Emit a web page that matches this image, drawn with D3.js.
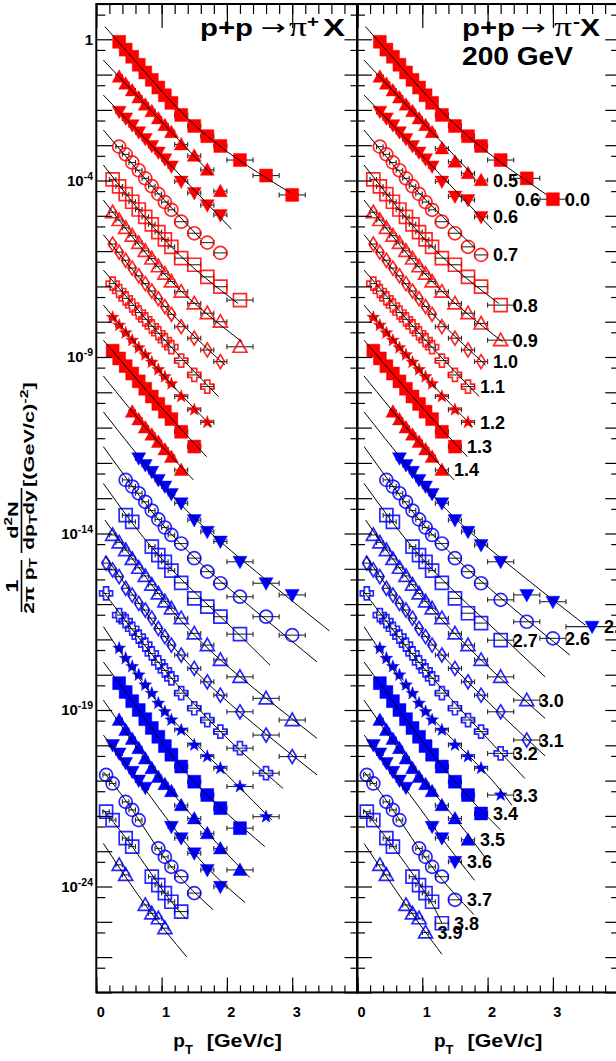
<!DOCTYPE html>
<html><head><meta charset="utf-8">
<script src="https://cdn.jsdelivr.net/npm/d3@7"></script>
<style>
body{margin:0;background:#fff}
svg{display:block}
text{font-family:"Liberation Sans",Arial,Helvetica,sans-serif;font-weight:bold;fill:#000}
</style></head>
<body><svg id="c" width="616" height="1061"></svg>
<script>
// Rapidity bin of each spectrum, top to bottom
const rapidity = ["0.0","0.5","0.6","0.7","0.8","0.9","1.0","1.1","1.2","1.3","1.4",
  "2.5","2.6","2.7","3.0","3.1","3.2","3.3","3.4","3.5","3.6","3.7","3.8","3.9"];
// Each spectrum is drawn multiplied by 10^scaleExponent
const scaleExponent = [0,-1,-2,-3,-4,-5,-6,-7,-8,-9,-10,-11,-12,-13,-14,-15,-16,-17,-18,-19,-20,-21,-22,-23];

// pi+ : transverse momentum bins (GeV/c)
const ptPlus = [
 [0.35,0.45,0.55,0.65,0.75,0.85,0.95,1.05,1.15,1.3,1.5,1.7,1.9,2.2,2.6,3.0],
 [0.35,0.45,0.55,0.65,0.75,0.85,0.95,1.05,1.15,1.3,1.5,1.7,1.9],
 [0.35,0.45,0.55,0.65,0.75,0.85,0.95,1.05,1.15,1.3,1.5,1.7,1.9],
 [0.35,0.45,0.55,0.65,0.75,0.85,0.95,1.05,1.15,1.3,1.5,1.7,1.9],
 [0.25,0.35,0.45,0.55,0.65,0.75,0.85,0.95,1.05,1.15,1.3,1.5,1.7,1.9,2.2],
 [0.25,0.35,0.45,0.55,0.65,0.75,0.85,0.95,1.05,1.15,1.3,1.5,1.7,1.9,2.2],
 [0.25,0.35,0.45,0.55,0.65,0.75,0.85,0.95,1.05,1.15,1.3,1.5,1.7,1.9],
 [0.25,0.35,0.45,0.55,0.65,0.75,0.85,0.95,1.05,1.15,1.3,1.5,1.7],
 [0.25,0.35,0.45,0.55,0.65,0.75,0.85,0.95,1.05,1.15,1.3,1.5,1.7],
 [0.25,0.35,0.45,0.55,0.65,0.75,0.85,0.95,1.05,1.15,1.3,1.5],
 [0.55,0.65,0.75,0.85,0.95,1.05,1.15,1.3],
 [0.65,0.75,0.85,0.95,1.05,1.15,1.3,1.5,1.7,1.9,2.2,2.6,3.0],
 [0.45,0.55,0.65,0.75,0.85,0.95,1.05,1.15,1.3,1.5,1.7,1.9,2.2,2.6,3.0],
 [0.45,0.55,0.85,0.95,1.05,1.15,1.3,1.5,1.7,1.9,2.2],
 [0.25,0.35,0.45,0.55,0.65,0.75,0.85,0.95,1.05,1.15,1.3,1.5,1.7,1.9,2.2,2.6,3.0],
 [0.15,0.25,0.35,0.45,0.55,0.65,0.75,0.85,0.95,1.05,1.15,1.3,1.5,1.7,1.9,2.2,2.6,3.0],
 [0.15,0.35,0.45,0.55,0.65,0.75,0.85,0.95,1.05,1.15,1.3,1.5,1.7,1.9,2.2,2.6],
 [0.35,0.45,0.55,0.65,0.75,0.85,0.95,1.05,1.15,1.3,1.5,1.7,1.9,2.2,2.6],
 [0.35,0.45,0.55,0.65,0.75,0.85,0.95,1.05,1.15,1.3,1.5,1.7,1.9,2.2],
 [0.35,0.45,0.55,0.65,0.75,0.85,0.95,1.05,1.15,1.3,1.5,1.7,1.9,2.2],
 [0.25,0.35,0.45,0.55,0.65,0.75,1.15,1.3,1.5,1.7,1.9],
 [0.15,0.25,0.45,0.55,0.65,0.95,1.05,1.15,1.3,1.5],
 [0.15,0.25,0.45,0.55,0.85,0.95,1.05,1.15,1.3],
 [0.35,0.45,0.75,0.85,0.95,1.05]
];
// pi+ : invariant yield before scaling, (GeV/c)^-2
const yieldPlus = [
 [0.85,0.51,0.32,0.19,0.115,0.071,0.043,0.026,0.0158,0.0072,0.0035,0.0018,9.5e-4,3.8e-4,1.38e-4,3.9e-5],
 [0.87,0.55,0.355,0.224,0.141,0.091,0.0575,0.037,0.0234,0.0105,0.005,0.002,5e-4],
 [0.89,0.575,0.37,0.234,0.151,0.095,0.062,0.04,0.025,0.0093,0.0044,0.002,0.00105],
 [0.91,0.55,0.324,0.195,0.115,0.069,0.0417,0.0245,0.0148,0.0068,0.0032,0.00174,8.9e-4],
 [1.07,0.68,0.41,0.25,0.151,0.093,0.0575,0.0347,0.0214,0.0132,0.0063,0.0041,0.00186,9.8e-4,4.1e-4],
 [1.26,0.76,0.457,0.275,0.17,0.102,0.0617,0.0372,0.0229,0.0138,0.0071,0.0033,0.00174,0.001,1.95e-4],
 [1.58,0.93,0.55,0.33,0.2,0.12,0.074,0.0447,0.0269,0.0162,0.0072,0.0034,0.00158,7.4e-4],
 [1.2,0.74,0.457,0.288,0.182,0.117,0.074,0.047,0.03,0.019,0.0079,0.0031,0.00145],
 [1.32,0.79,0.48,0.295,0.182,0.115,0.0708,0.0437,0.0275,0.0174,0.0076,0.0032,0.00141],
 [1.51,0.91,0.55,0.34,0.204,0.126,0.0759,0.0468,0.0282,0.0174,0.0076,0.0029],
 [0.28,0.17,0.1,0.063,0.039,0.024,0.0148,0.0063],
 [0.135,0.087,0.056,0.033,0.0214,0.0132,0.0072,0.0024,0.00112,5.9e-4,1.58e-4,3.9e-5,1.82e-5],
 [0.33,0.214,0.138,0.079,0.0447,0.0251,0.0148,0.0091,0.0052,0.002,8.3e-4,3.9e-4,1.62e-4,4.4e-5,1.32e-5],
 [0.33,0.214,0.0427,0.0245,0.0158,0.0089,0.004,0.00145,8.5e-4,4.4e-4,1.41e-4],
 [0.91,0.56,0.34,0.19,0.107,0.063,0.0355,0.02,0.012,0.0076,0.004,0.00148,6.9e-4,2.63e-4,8.7e-5,2.14e-5,5.2e-6],
 [1.45,0.93,0.6,0.28,0.18,0.105,0.068,0.04,0.0204,0.012,0.0069,0.0036,0.00151,6.3e-4,2.63e-4,8.9e-5,1.95e-5,4.8e-6],
 [2.0,0.49,0.33,0.2,0.12,0.071,0.04,0.0224,0.0132,0.0079,0.003,0.00112,5.2e-4,2.45e-4,8.3e-5,1.62e-5],
 [0.56,0.29,0.17,0.098,0.051,0.0295,0.0155,0.0089,0.0052,0.0027,0.00102,4.8e-4,2.24e-4,6.8e-5,9.5e-6],
 [0.575,0.324,0.178,0.1,0.055,0.031,0.0174,0.0095,0.0054,0.0025,9.3e-4,3.9e-4,1.66e-4,4.5e-5],
 [0.525,0.27,0.151,0.083,0.042,0.0224,0.0126,0.0079,0.005,0.002,8.5e-4,3.2e-4,1.2e-4,2.95e-5],
 [1.02,0.59,0.316,0.178,0.1,0.063,0.0049,0.00234,8.7e-4,2.95e-4,9.8e-5],
 [1.45,0.83,0.25,0.148,0.076,0.012,0.0069,0.0036,0.0019,6.5e-4],
 [1.32,0.76,0.234,0.135,0.019,0.011,0.0065,0.0037,0.00195],
 [0.41,0.214,0.03,0.0174,0.0126,0.0066]
];
// pi+ : fitted spectra, sampled as [pT, yield] before scaling
const fitPlus = [
 [[0.13,2.3],[0.75,0.115],[1.7,0.0018],[2.97,4.5e-5]],
 [[0.108,2.57],[0.95,0.0575],[1.77,0.00145]],
 [[0.108,2.63],[1.05,0.04],[2.07,4.2e-4]],
 [[0.108,2.7],[0.85,0.069],[1.6,0.0022]],
 [[0.108,2.75],[1.15,0.0132],[2.17,3.3e-4]],
 [[0.108,2.8],[1.15,0.0138],[2.23,2.7e-4]],
 [[0.108,2.9],[1.05,0.0269],[1.97,5.9e-4]],
 [[0.108,2.9],[1.05,0.03],[1.87,7.6e-4]],
 [[0.108,2.95],[1.05,0.0275],[1.77,0.00107]],
 [[0.108,3.0],[0.95,0.0468],[1.69,0.0015]],
 [[0.108,2.9],[0.85,0.063],[1.487,0.0033]],
 [[0.108,2.8],[0.95,0.033],[1.9,5.9e-4],[3.57,1.74e-6]],
 [[0.108,2.9],[0.95,0.0251],[1.9,4.5e-4],[3.38,2.3e-6]],
 [[0.108,2.63],[0.95,0.0245],[1.9,4.4e-4],[2.66,1.86e-5]],
 [[0.133,2.4],[0.95,0.02],[1.9,2.63e-4],[3.38,1.58e-6]],
 [[0.133,2.3],[0.95,0.0204],[1.9,2.63e-4],[3.38,1.45e-6]],
 [[0.108,2.24],[0.95,0.0224],[1.9,2.45e-4],[2.86,6.0e-6]],
 [[0.108,2.3],[0.95,0.0155],[1.9,2.24e-4],[2.69,7.6e-6]],
 [[0.108,2.3],[0.75,0.055],[1.5,9.3e-4],[2.58,1.35e-5]],
 [[0.108,1.9],[0.75,0.042],[1.5,8.5e-4],[2.35,1.8e-5]],
 [[0.108,1.95],[0.65,0.1],[1.5,8.7e-4],[2.28,3.5e-5]],
 [[0.108,1.78],[0.55,0.148],[1.15,0.0036],[1.79,2.2e-4]],
 [[0.108,1.48],[0.55,0.135],[1.05,0.0065],[1.384,0.00117]],
 [[0.108,1.66],[0.75,0.03],[1.384,0.00102]]
];

// pi- : transverse momentum bins (GeV/c)
const ptMinus = [
 [0.35,0.45,0.55,0.65,0.75,0.85,0.95,1.05,1.15,1.3,1.5,1.7,1.9,2.2,2.6,3.0],
 [0.35,0.45,0.55,0.65,0.75,0.85,0.95,1.05,1.15,1.3,1.5,1.7,1.9],
 [0.35,0.45,0.55,0.65,0.75,0.85,0.95,1.05,1.15,1.3,1.5,1.7,1.9],
 [0.35,0.45,0.55,0.65,0.75,0.85,0.95,1.05,1.15,1.3,1.5,1.7,1.9],
 [0.25,0.35,0.45,0.55,0.65,0.75,0.85,0.95,1.05,1.15,1.3,1.5,1.7,1.9,2.2],
 [0.25,0.35,0.45,0.55,0.65,0.75,0.85,0.95,1.05,1.15,1.3,1.5,1.7,1.9,2.2],
 [0.25,0.35,0.45,0.55,0.65,0.75,0.85,0.95,1.05,1.15,1.3,1.5,1.7,1.9],
 [0.25,0.35,0.45,0.55,0.65,0.75,0.85,0.95,1.05,1.15,1.3,1.5,1.7],
 [0.25,0.35,0.45,0.55,0.65,0.75,0.85,0.95,1.05,1.15,1.3,1.5,1.7],
 [0.25,0.35,0.45,0.55,0.65,0.75,0.85,0.95,1.05,1.15,1.3,1.5],
 [0.55,0.65,0.75,0.85,0.95,1.05,1.15,1.3],
 [0.65,0.75,0.85,0.95,1.05,1.15,1.3,1.5,1.7,1.9,2.2,2.6,3.0,3.6],
 [0.45,0.55,0.65,0.75,0.85,0.95,1.05,1.15,1.3,1.5,1.7,1.9,2.2,2.6,3.0],
 [0.45,0.55,0.85,0.95,1.05,1.15,1.3,1.5,1.7,1.9,2.2],
 [0.25,0.35,0.45,0.55,0.65,0.75,0.85,0.95,1.05,1.15,1.3,1.5,1.7,1.9,2.2,2.6],
 [0.15,0.25,0.35,0.45,0.55,0.65,0.75,0.85,0.95,1.05,1.15,1.3,1.5,1.7,1.9,2.2,2.6],
 [0.15,0.35,0.45,0.55,0.65,0.75,0.85,0.95,1.05,1.15,1.3,1.5,1.7,1.9,2.2],
 [0.35,0.45,0.55,0.65,0.75,0.85,0.95,1.05,1.15,1.3,1.5,1.7,1.9,2.2],
 [0.35,0.45,0.55,0.65,0.75,0.85,0.95,1.05,1.15,1.3,1.5,1.7,1.9],
 [0.35,0.45,0.55,0.65,0.75,0.85,0.95,1.05,1.15,1.3,1.5,1.7],
 [0.25,0.35,0.45,0.55,0.65,0.75,1.15,1.3,1.5],
 [0.15,0.25,0.45,0.55,0.65,0.95,1.05,1.15,1.3,1.5],
 [0.15,0.25,0.45,0.55,0.85,0.95,1.05,1.15,1.3],
 [0.35,0.45,0.75,0.85,0.95,1.05]
];
// pi- : invariant yield before scaling, (GeV/c)^-2
const yieldMinus = [
 [0.85,0.51,0.32,0.19,0.115,0.071,0.043,0.026,0.0158,0.0072,0.0035,0.0018,9.5e-4,3.8e-4,1.15e-4,2.95e-5],
 [0.87,0.55,0.355,0.224,0.141,0.091,0.0575,0.037,0.0234,0.0081,0.0034,0.0016,0.00102],
 [0.89,0.575,0.37,0.234,0.151,0.095,0.062,0.04,0.025,0.0093,0.0035,0.0028,9.3e-4],
 [0.91,0.55,0.324,0.195,0.115,0.069,0.0417,0.0245,0.0148,0.0068,0.0032,0.00132,7.8e-4],
 [1.07,0.68,0.41,0.25,0.151,0.093,0.0575,0.0347,0.0214,0.0132,0.0063,0.0041,0.00186,9.8e-4,2.95e-4],
 [1.26,0.76,0.457,0.275,0.17,0.102,0.0617,0.0372,0.0229,0.0138,0.0071,0.0033,0.00174,8.9e-4,3.0e-4],
 [1.58,0.93,0.55,0.33,0.2,0.12,0.074,0.0447,0.0269,0.0162,0.0072,0.0034,0.00158,7.4e-4],
 [1.2,0.74,0.457,0.288,0.182,0.117,0.074,0.047,0.03,0.019,0.0079,0.0031,0.00145],
 [1.32,0.79,0.48,0.295,0.182,0.115,0.0708,0.0437,0.0275,0.0174,0.0076,0.0032,0.00141],
 [1.51,0.91,0.55,0.34,0.204,0.126,0.0759,0.0468,0.0282,0.0174,0.0076,0.0029],
 [0.28,0.17,0.1,0.063,0.039,0.024,0.0148,0.0063],
 [0.135,0.087,0.056,0.033,0.0214,0.0132,0.0072,0.0024,0.00112,4.7e-4,1.58e-4,1.82e-5,1.17e-5,2.3e-6],
 [0.33,0.214,0.138,0.079,0.0447,0.0251,0.0148,0.0091,0.0052,0.002,8.3e-4,3.9e-4,1.32e-4,3.16e-5,1.07e-5],
 [0.33,0.214,0.0427,0.0245,0.0158,0.0089,0.004,0.00145,5.5e-4,2.9e-4,9.5e-5],
 [0.91,0.56,0.34,0.19,0.107,0.063,0.0355,0.02,0.012,0.0076,0.004,0.00148,6.9e-4,2.63e-4,8.7e-5,1.9e-5],
 [1.45,0.93,0.6,0.28,0.18,0.105,0.068,0.04,0.0204,0.012,0.0069,0.0036,0.00151,6.3e-4,2.63e-4,8.9e-5,1.41e-5],
 [2.0,0.49,0.33,0.2,0.12,0.071,0.04,0.0224,0.0132,0.0079,0.003,0.00112,5.2e-4,2.45e-4,5.9e-5],
 [0.56,0.29,0.17,0.098,0.051,0.0295,0.0155,0.0089,0.0052,0.0027,0.00102,4.8e-4,2.24e-4,3.9e-5],
 [0.575,0.324,0.178,0.1,0.055,0.031,0.0174,0.0095,0.0054,0.0025,9.3e-4,3.9e-4,1.17e-4],
 [0.525,0.27,0.151,0.083,0.042,0.0224,0.0126,0.0079,0.005,0.002,8.5e-4,2.1e-4],
 [1.02,0.59,0.316,0.178,0.1,0.063,0.0049,0.00234,5.0e-4],
 [1.45,0.83,0.25,0.148,0.076,0.012,0.0069,0.0036,0.0019,4.2e-4],
 [1.32,0.76,0.234,0.135,0.019,0.011,0.0065,0.0037,9.1e-4],
 [0.41,0.214,0.03,0.0174,0.0126,0.005]
];
// pi- : fitted spectra, sampled as [pT, yield] before scaling
const fitMinus = [
 [[0.13,2.3],[0.75,0.115],[1.7,0.0018],[2.9,4.0e-5]],
 [[0.108,2.57],[0.95,0.0575],[1.77,0.00145]],
 [[0.108,2.63],[1.05,0.04],[2.07,4.2e-4]],
 [[0.108,2.7],[0.85,0.069],[1.81,0.0012]],
 [[0.108,2.75],[1.15,0.0132],[2.17,3.3e-4]],
 [[0.108,2.8],[1.15,0.0138],[2.23,2.7e-4]],
 [[0.108,2.9],[1.05,0.0269],[1.97,5.9e-4]],
 [[0.108,2.9],[1.05,0.03],[1.87,7.6e-4]],
 [[0.108,2.95],[1.05,0.0275],[1.77,0.00107]],
 [[0.108,3.0],[0.95,0.0468],[1.69,0.0015]],
 [[0.108,2.9],[0.85,0.063],[1.487,0.0033]],
 [[0.108,2.8],[0.95,0.033],[1.9,5.9e-4],[3.5,2.5e-6]],
 [[0.108,2.9],[0.95,0.0251],[1.9,4.5e-4],[3.26,3.6e-6]],
 [[0.108,2.63],[0.95,0.0245],[1.9,4.4e-4],[2.88,8.7e-6]],
 [[0.133,2.4],[0.95,0.02],[1.9,2.63e-4],[2.88,5.8e-6]],
 [[0.133,2.3],[0.95,0.0204],[1.9,2.63e-4],[2.88,5.0e-6]],
 [[0.108,2.24],[0.95,0.0224],[1.9,2.45e-4],[2.57,1.15e-5]],
 [[0.108,2.3],[0.95,0.0155],[1.9,2.24e-4],[2.37,2.0e-5]],
 [[0.108,2.3],[0.75,0.055],[1.5,9.3e-4],[2.2,4.0e-5]],
 [[0.108,1.9],[0.75,0.042],[1.5,8.5e-4],[1.98,6.0e-5]],
 [[0.108,1.95],[0.65,0.1],[1.3,0.00234],[1.8,1.5e-4]],
 [[0.108,1.78],[0.55,0.148],[1.15,0.0036],[1.79,1.6e-4]],
 [[0.108,1.48],[0.55,0.135],[1.05,0.0065],[1.3,9.1e-4]],
 [[0.108,1.66],[0.75,0.03],[1.3,0.0012]]
];
// A stray rapidity tag printed inside the pi- panel
const strayLabelText = ["0.6"];
const strayLabelPt = [2.42];
const strayLabelValue = [2.8e-5];

// ---------------- drawing ----------------
const svg = d3.select("#c");
const yTop = 4, yBot = 992.4;
const y = d3.scaleLog().domain([1e-27, 10]).range([yBot, yTop]);
const xPlus = d3.scaleLinear().domain([0, 4]).range([96.3, 357.5]);
const xMinus = d3.scaleLinear().domain([0, 4]).range([357, 618.2]);

const RED = "#ff0000", BLUE = "#0000ff";
const markerShape = ["square","triUp","triDown","circle","square","triUp","diamond","cross","star","square","triUp",
  "triDown","circle","square","triUp","diamond","cross","star","square","triUp","triDown","circle","square","triUp"];
const markerFilled = [1,1,1,0,0,0,0,0,1,1,1, 1,0,0,0,0,0,1,1,1,1,0,0,0];

function shapePath(s) {
  switch (s) {
    case "square": return "M-6.5,-6.5H6.5V6.5H-6.5Z";
    case "triUp": return "M0,-7L7,5.5L-7,5.5Z";
    case "triDown": return "M0,7L7,-5.5L-7,-5.5Z";
    case "diamond": return "M0,-7L4.3,0L0,7L-4.3,0Z";
    case "cross": { const a = 2.5, l = 6.5;
      return `M${-a},${-l}H${a}V${-a}H${l}V${a}H${a}V${l}H${-a}V${a}H${-l}V${-a}H${-a}Z`; }
    case "star": { let p = "";
      for (let k = 0; k < 10; k++) { const r = k % 2 ? 2.7 : 6.8, t = -Math.PI / 2 + k * Math.PI / 5;
        p += (k ? "L" : "M") + (r * Math.cos(t)).toFixed(2) + "," + (r * Math.sin(t)).toFixed(2); }
      return p + "Z"; }
    default: return d3.symbol(d3.symbolCircle, 133)();
  }
}
function halfBin(pt) { return pt >= 3.3 ? 0.4 : pt >= 2.0 ? 0.2 : pt >= 1.25 ? 0.1 : 0.05; }

// titles sit under the frame ticks
function title(parts) {
  parts.forEach(p => {
    const t = svg.append("text").attr("x", p.x).attr("y", p.y).attr("font-size", p.fs)
      .attr("textLength", p.w).attr("lengthAdjust", "spacingAndGlyphs").text(p.t);
    if (p.normal) t.style("font-weight", "normal").style("font-family", p.serif ? "'Liberation Serif',serif" : "'DejaVu Sans',sans-serif");
  });
}
title([
  {t:"p+p", x:200, y:36, fs:24, w:53},
  {t:"\u2192", x:261, y:35, fs:22, w:25, normal:true},
  {t:"\u03c0", x:289, y:36, fs:27, w:18, normal:true, serif:true},
  {t:"+", x:307, y:27, fs:16, w:12},
  {t:"X", x:323, y:36, fs:24, w:22}
]);
title([
  {t:"p+p", x:462, y:36, fs:24, w:53},
  {t:"\u2192", x:521, y:35, fs:22, w:25, normal:true},
  {t:"\u03c0", x:554, y:36, fs:27, w:18, normal:true, serif:true},
  {t:"-", x:573, y:27, fs:16, w:7},
  {t:"X", x:580, y:36, fs:24, w:20},
  {t:"200 GeV", x:462, y:65, fs:25, w:111}
]);

function drawPanel(x, pts, ylds, fits, withLabels) {
  const g = svg.append("g");
  pts.forEach((ptArr, i) => {
    const f = Math.pow(10, scaleExponent[i]);
    const col = i <= 10 ? RED : BLUE;
    const data = ptArr.map((p, k) => ({pt: p, v: ylds[i][k] * f}));
    // horizontal bin-width bars
    const eb = g.append("g").attr("stroke", "#2a2a2a").attr("stroke-width", 1.1);
    data.forEach(d => {
      const x0 = x(d.pt - halfBin(d.pt)), x1 = x(d.pt + halfBin(d.pt)), yy = y(d.v);
      eb.append("line").attr("x1", x0).attr("x2", x1).attr("y1", yy).attr("y2", yy);
      eb.append("line").attr("x1", x0).attr("x2", x0).attr("y1", yy - 2.5).attr("y2", yy + 2.5);
      eb.append("line").attr("x1", x1).attr("x2", x1).attr("y1", yy - 2.5).attr("y2", yy + 2.5);
    });
    const filled = markerFilled[i];
    g.append("g").selectAll("path").data(data).join("path")
      .attr("d", shapePath(markerShape[i]))
      .attr("transform", d => `translate(${x(d.pt)},${y(d.v)})`)
      .attr("fill", filled ? col : "none")
      .attr("stroke", col).attr("stroke-width", filled ? 0.8 : 1.7).attr("stroke-opacity", filled ? 0.55 : 0.85);
    if (withLabels) {
      const last = data[data.length - 1];
      g.append("text").attr("x", x(last.pt) + 12).attr("y", y(last.v)).attr("dy", "0.36em")
        .attr("font-size", 18).text(rapidity[i]);
    }
  });
  const line = d3.line().x(d => x(d[0])).y(d => y(d[1])).curve(d3.curveNatural);
  const lg = g.append("g").attr("fill", "none").attr("stroke", "#000").attr("stroke-width", 1);
  fits.forEach((fp, i) => {
    const f = Math.pow(10, scaleExponent[i]);
    lg.append("path").attr("d", line(fp.map(d => [d[0], d[1] * f])));
  });
}
drawPanel(xPlus, ptPlus, yieldPlus, fitPlus, false);
drawPanel(xMinus, ptMinus, yieldMinus, fitMinus, true);
strayLabelText.forEach((t, k) => {
  svg.append("text").attr("x", xMinus(strayLabelPt[k])).attr("y", y(strayLabelValue[k])).attr("dy", "0.36em")
    .attr("font-size", 18).text(t);
});

// frames and ticks
const majX = [0, 1, 2, 3, 4], minX = d3.range(0, 4.001, 0.2);
const majY = d3.range(-27, 2).map(e => Math.pow(10, e));
const minY = d3.range(-27, 1).map(e => 5 * Math.pow(10, e));
function ticks(gSel) { gSel.select(".domain").remove(); gSel.selectAll("line").attr("stroke", "#000").attr("stroke-width", 1.2); }
function frame(x, leftMaj, leftMin, rightMaj, rightMin) {
  const [x0, x1] = x.range();
  const g = svg.append("g");
  g.append("g").attr("transform", `translate(0,${yBot})`).call(d3.axisTop(x).tickValues(minX).tickSize(7).tickFormat("")).call(ticks);
  g.append("g").attr("transform", `translate(0,${yBot})`).call(d3.axisTop(x).tickValues(majX).tickSize(15).tickFormat("")).call(ticks);
  g.append("g").attr("transform", `translate(0,${yTop})`).call(d3.axisBottom(x).tickValues(minX).tickSize(10).tickFormat("")).call(ticks);
  g.append("g").attr("transform", `translate(0,${yTop})`).call(d3.axisBottom(x).tickValues(majX).tickSize(24).tickFormat("")).call(ticks);
  g.append("g").attr("transform", `translate(${x0},0)`).call(d3.axisRight(y).tickValues(minY).tickSize(leftMin).tickFormat("")).call(ticks);
  g.append("g").attr("transform", `translate(${x0},0)`).call(d3.axisRight(y).tickValues(majY).tickSize(leftMaj).tickFormat("")).call(ticks);
  g.append("g").attr("transform", `translate(${x1},0)`).call(d3.axisLeft(y).tickValues(minY).tickSize(rightMin).tickFormat("")).call(ticks);
  g.append("g").attr("transform", `translate(${x1},0)`).call(d3.axisLeft(y).tickValues(majY).tickSize(rightMaj).tickFormat("")).call(ticks);
  g.append("rect").attr("x", x0).attr("y", yTop).attr("width", x1 - x0).attr("height", yBot - yTop)
    .attr("fill", "none").attr("stroke", "#000").attr("stroke-width", 2);
  // x tick labels
  [0, 1, 2, 3].forEach(v => g.append("text").attr("x", x(v) + 4.5).attr("y", 1017).attr("text-anchor", "middle")
    .attr("font-size", 14.5).text(v));
  // x title
  const xt = g.append("text").attr("x", x0 + 77).attr("y", 1047).attr("font-size", 19);
  xt.append("tspan").text("p");
  xt.append("tspan").attr("font-size", 13).attr("dy", 7).text("T");
  g.append("text").attr("x", x0 + 110.5).attr("y", 1047).attr("font-size", 19)
    .attr("textLength", 75).attr("lengthAdjust", "spacingAndGlyphs").text("[GeV/c]");
}
frame(xPlus, 16, 9, 13, 7);
frame(xMinus, 15, 8, 13, 7);

// y tick labels
[0, -4, -9, -14, -19, -24].forEach(e => {
  const t = svg.append("text").attr("x", 93).attr("y", y(Math.pow(10, e))).attr("dy", "0.36em")
    .attr("text-anchor", "end").attr("font-size", 15);
  if (e === 0) t.text("1");
  else { t.append("tspan").text("10"); t.append("tspan").attr("font-size", 10.5).attr("dy", -6).text("-" + Math.abs(e)); }
});

// y title: rotated, glyphs drawn stretched along the text direction
const sAlong = 1.45;
const yt = svg.append("g").attr("transform", `rotate(-90) scale(${sAlong},1)`);
const U = Y => -Y / sAlong;
yt.append("text").attr("x", U(586)).attr("y", 18.5).attr("text-anchor", "middle").attr("font-size", 16.5).text("1");
yt.append("line").attr("x1", U(612)).attr("x2", U(560)).attr("y1", 21.5).attr("y2", 21.5).attr("stroke", "#000").attr("stroke-width", 1.6);
const den1 = yt.append("text").attr("x", U(586)).attr("y", 34).attr("text-anchor", "middle").attr("font-size", 14.5);
den1.append("tspan").text("2\u03c0 p"); den1.append("tspan").attr("font-size", 10.5).attr("dy", 3).text("T");
const num2 = yt.append("text").attr("x", U(520)).attr("y", 18).attr("text-anchor", "middle").attr("font-size", 15);
num2.append("tspan").text("d"); num2.append("tspan").attr("font-size", 10.5).attr("dy", -6).text("2"); num2.append("tspan").attr("dy", 6).text("N");
yt.append("line").attr("x1", U(553)).attr("x2", U(488)).attr("y1", 21.5).attr("y2", 21.5).attr("stroke", "#000").attr("stroke-width", 1.6);
const den2 = yt.append("text").attr("x", U(520)).attr("y", 34).attr("text-anchor", "middle").attr("font-size", 14.5);
den2.append("tspan").text("dp"); den2.append("tspan").attr("font-size", 10.5).attr("dy", 3).text("T"); den2.append("tspan").attr("dy", -3).text("dy");
const unit = yt.append("text").attr("x", U(487)).attr("y", 34).attr("font-size", 15);
unit.append("tspan").text("[(GeV/c)"); unit.append("tspan").attr("font-size", 11).attr("dy", -6).text("-2");
unit.append("tspan").attr("dy", 6).text("]");
</script></body></html>
